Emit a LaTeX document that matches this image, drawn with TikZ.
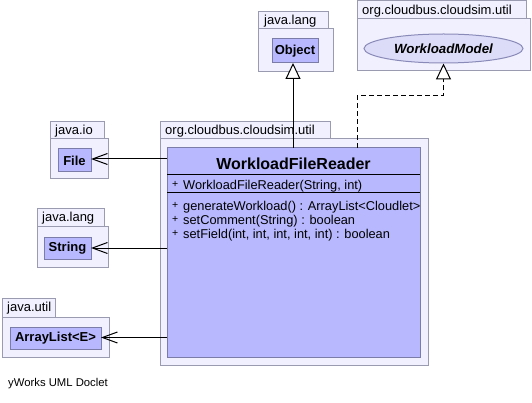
\documentclass[tikz,border=0pt]{standalone}
\usepackage{fontspec}
\setmainfont{Liberation Sans}
\usetikzlibrary{arrows.meta,shapes.geometric}
\definecolor{pkgfill}{HTML}{F0F0FF}
\definecolor{pkgdraw}{HTML}{9A9AB0}
\definecolor{clsfill}{HTML}{B8B8FF}
\definecolor{clsdraw}{HTML}{7C7CA8}
\definecolor{ellfill}{HTML}{DCDCF8}
\definecolor{elldraw}{HTML}{8A8AB8}
\tikzset{
  box/.style={anchor=north west, inner sep=0pt, outer sep=0pt, line width=1pt},
  pkgshape/.style={box, draw=pkgdraw, fill=pkgfill},
  clsshape/.style={box, draw=clsdraw, fill=clsfill},
  pkglabel/.style={anchor=west, inner sep=0pt, font=\fontsize{13}{15}\selectfont},
  clsname/.style={inner sep=0pt, font=\fontsize{13}{15}\selectfont\bfseries},
  member/.style={anchor=west, inner sep=0pt, font=\fontsize{12.8}{15}\selectfont},
  plus/.style={anchor=west, inner sep=0pt, font=\fontsize{10.5}{12}\selectfont},
  conn/.style={line width=1pt, black},
  inherit/.style={conn, -{Triangle[length=16pt, width=15pt, fill=white, line width=1pt]}},
  depend/.style={conn, -{Straight Barb[length=15pt, width=11pt, line width=1pt]}},
  realize/.style={inherit, dash pattern=on 5pt off 3pt},
}
\begin{document}
\begin{tikzpicture}[x=1pt, y=-1pt]
\useasboundingbox (0,0) rectangle (532,403);

% java.lang (Object)
\node[pkgshape, minimum width=75, minimum height=43] (p1body) at (258,29) {};
\node[pkgshape, minimum width=70, minimum height=17] (p1tab) at (258,12) {};
\node[pkglabel] (p1lab) at (264,21) {java.lang};
\node[clsshape, minimum width=46, minimum height=24] (obj) at (272,39) {};
\node[clsname] (objtxt) at (obj.center) {Object};

% org.cloudbus.cloudsim.util (WorkloadModel)
\node[pkgshape, minimum width=173, minimum height=52] (p2body) at (357,19) {};
\node[pkgshape, minimum width=169, minimum height=18] (p2tab) at (357,1) {};
\node[pkglabel] (p2lab) at (362,11) {org.cloudbus.cloudsim.util};
\node[ellipse, draw=elldraw, fill=ellfill, line width=1pt, minimum width=159, minimum height=29, inner sep=0pt] (model) at (443.5,48.5) {};
\node[clsname, font=\fontsize{13.3}{15}\selectfont\bfseries\itshape] (modeltxt) at (model.center) {WorkloadModel};

% java.io (File)
\node[pkgshape, minimum width=58, minimum height=40] (p3body) at (50,139) {};
\node[pkgshape, minimum width=54, minimum height=17] (p3tab) at (50,122) {};
\node[pkglabel] (p3lab) at (55,131) {java.io};
\node[clsshape, minimum width=33, minimum height=23] (file) at (58,149) {};
\node[clsname] (filetxt) at (file.center) {File};

% java.lang (String)
\node[pkgshape, minimum width=71, minimum height=40] (p4body) at (37,227) {};
\node[pkgshape, minimum width=67, minimum height=18] (p4tab) at (37,209) {};
\node[pkglabel] (p4lab) at (42,218.5) {java.lang};
\node[clsshape, minimum width=47, minimum height=22] (string) at (44,237) {};
\node[clsname] (stringtxt) at (string.center) {String};

% java.util (ArrayList)
\node[pkgshape, minimum width=107, minimum height=40] (p5body) at (2,317) {};
\node[pkgshape, minimum width=53, minimum height=19] (p5tab) at (2,298) {};
\node[pkglabel] (p5lab) at (7,308) {java.util};
\node[clsshape, minimum width=91, minimum height=22] (alist) at (10,327) {};
\node[clsname] (alisttxt) at (alist.center) {ArrayList<E>};

% org.cloudbus.cloudsim.util (WorkloadFileReader)
\node[pkgshape, minimum width=268, minimum height=226] (p6body) at (160,139) {};
\node[pkgshape, minimum width=170, minimum height=17] (p6tab) at (160,122) {};
\node[pkglabel] (p6lab) at (165,131) {org.cloudbus.cloudsim.util};
\node[clsshape, minimum width=253, minimum height=209] (main) at (167,148) {};
\node[clsname, font=\fontsize{16}{19}\selectfont\bfseries] (maintxt) at (293.5,164) {WorkloadFileReader};
\draw[line width=1pt, black] (main.west |- 0,175) coordinate (s1a) -- (main.east |- s1a);
\draw[line width=1pt, black] (main.west |- 0,193) coordinate (s2a) -- (main.east |- s2a);
\node[plus] (pl1) at (172,184) {+};
\node[member] (m1) at (183,186.5) {WorkloadFileReader(String, int)};
\node[plus] (pl2) at (172,205) {+};
\node[member] (m2) at (183,207.5) {generateWorkload() : ArrayList<Cloudlet>};
\node[plus] (pl3) at (172,219) {+};
\node[member] (m3) at (183,221.5) {setComment(String) : boolean};
\node[plus] (pl4) at (172,233) {+};
\node[member] (m4) at (183,235.5) {setField(int, int, int, int, int) : boolean};

% connectors
\coordinate (objpt) at (293,63);
\draw[inherit] (main.north -| objpt) -- (objpt);
\coordinate (bend) at (357,96);
\draw[realize] (main.north -| bend) -- (bend) -| (model.south);
\draw[depend] (main.west |- 0,159) -- (file.east |- 0,159);
\draw[depend] (main.west |- string.east) -- (string.east);
\draw[depend] (main.west |- 0,337.5) -- (alist.east |- 0,337.5);

\node[anchor=west, inner sep=0pt, font=\fontsize{11.3}{13}\selectfont] (credit) at (8,384) {yWorks UML Doclet};
\end{tikzpicture}
\end{document}
